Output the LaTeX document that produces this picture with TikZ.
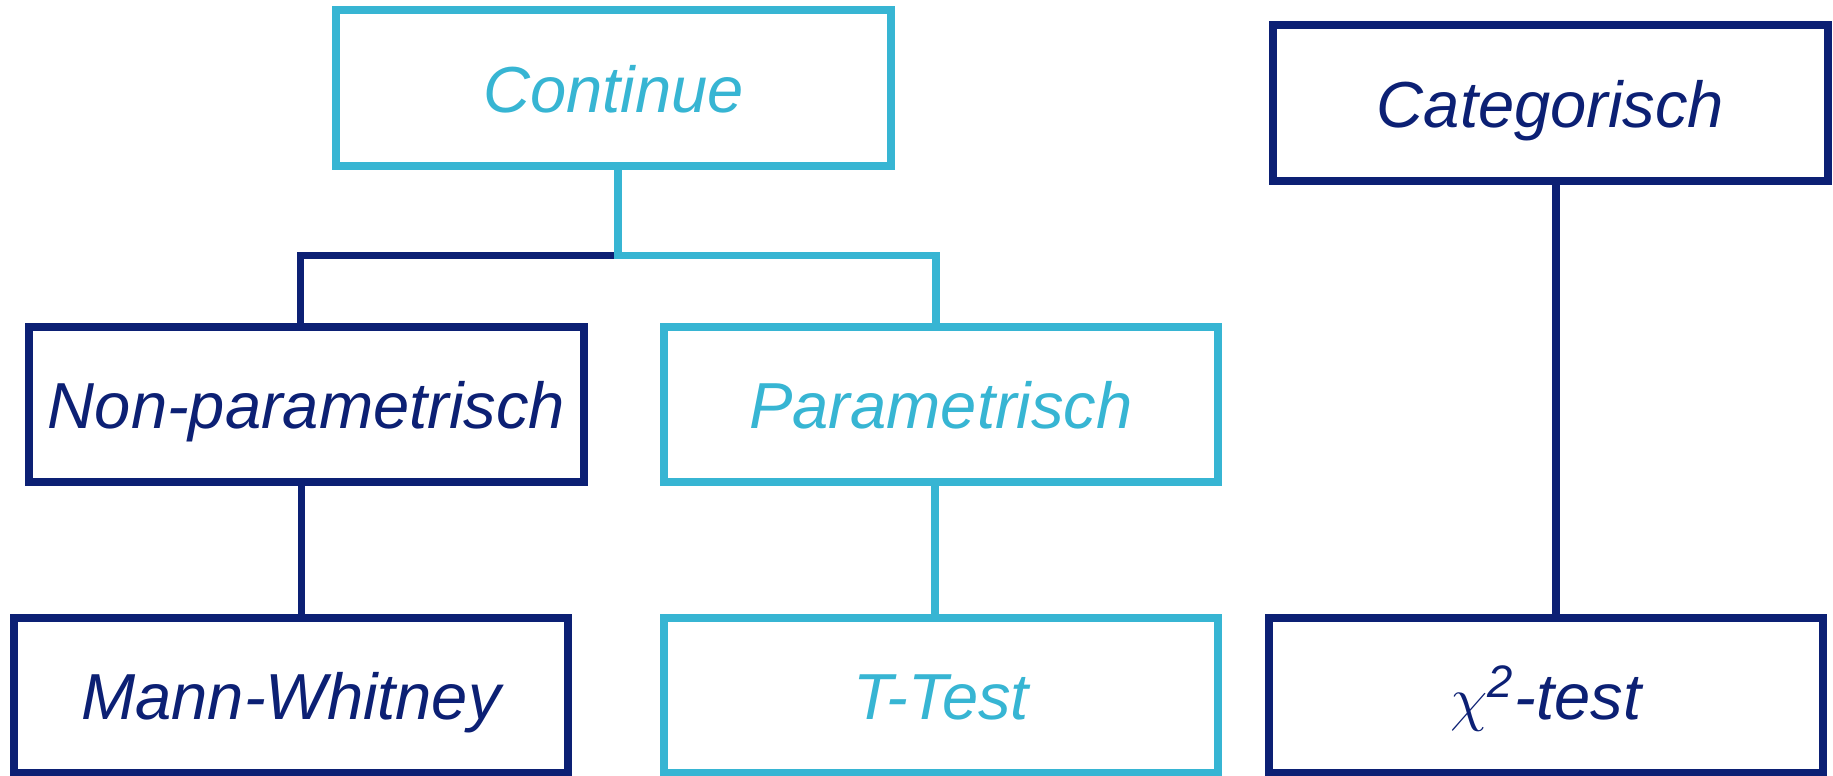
\documentclass[tikz,border=0pt]{standalone}
\usepackage{amsmath}
\usepackage{fontspec}
\setmainfont{Liberation Sans}
\definecolor{darkblue}{RGB}{12,32,116}
\definecolor{lightblue}{RGB}{55,181,211}

\begin{document}
\begin{tikzpicture}[x=0.01cm,y=-0.01cm,
    box/.style={draw,line width=0.08cm,minimum width=5.54cm,minimum height=1.55cm,inner sep=0pt,text height=0.48cm,text depth=0cm,font=\fontsize{18.5}{22}\selectfont\itshape},
    darkbox/.style={box,draw=darkblue,text=darkblue},
    lightbox/.style={box,draw=lightblue,text=lightblue},
    darkline/.style={draw=darkblue,line width=0.075cm},
    lightline/.style={draw=lightblue,line width=0.075cm}]
    \useasboundingbox(0,0)rectangle(1833,775);
    \node[lightbox](cont)at(613.5,88){Continue};
    \node[darkbox](cat)at(1550.5,103){Categorisch};
    \node[darkbox](nonpar)at(306.5,404.5){Non-parametrisch};
    \node[lightbox](par)at(941,404.5){Parametrisch};
    \node[darkbox](mw)at(291,695.5){Mann-Whitney};
    \node[lightbox](tt)at(941,695.5){T-Test};
    \node[darkbox](chi)at(1546,695.5){$\chi$\textsuperscript{2}-test};
    \path([xshift=0.045cm]cont.south)++(0,86)coordinate(split);
    \draw[darkline](split)-|([xshift=-0.06cm]nonpar.north);
    \draw[lightline](split|-cont.south)--(split)-|([xshift=-0.05cm]par.north);
    \draw[darkline]([xshift=-0.05cm]nonpar.south)--([xshift=-0.05cm]nonpar.south|-mw.north);
    \draw[lightline]([xshift=-0.06cm]par.south)--([xshift=-0.06cm]par.south|-tt.north);
    \draw[darkline]([xshift=0.055cm]cat.south)--([xshift=0.055cm]cat.south|-chi.north);
  \end{tikzpicture}
\end{document}
